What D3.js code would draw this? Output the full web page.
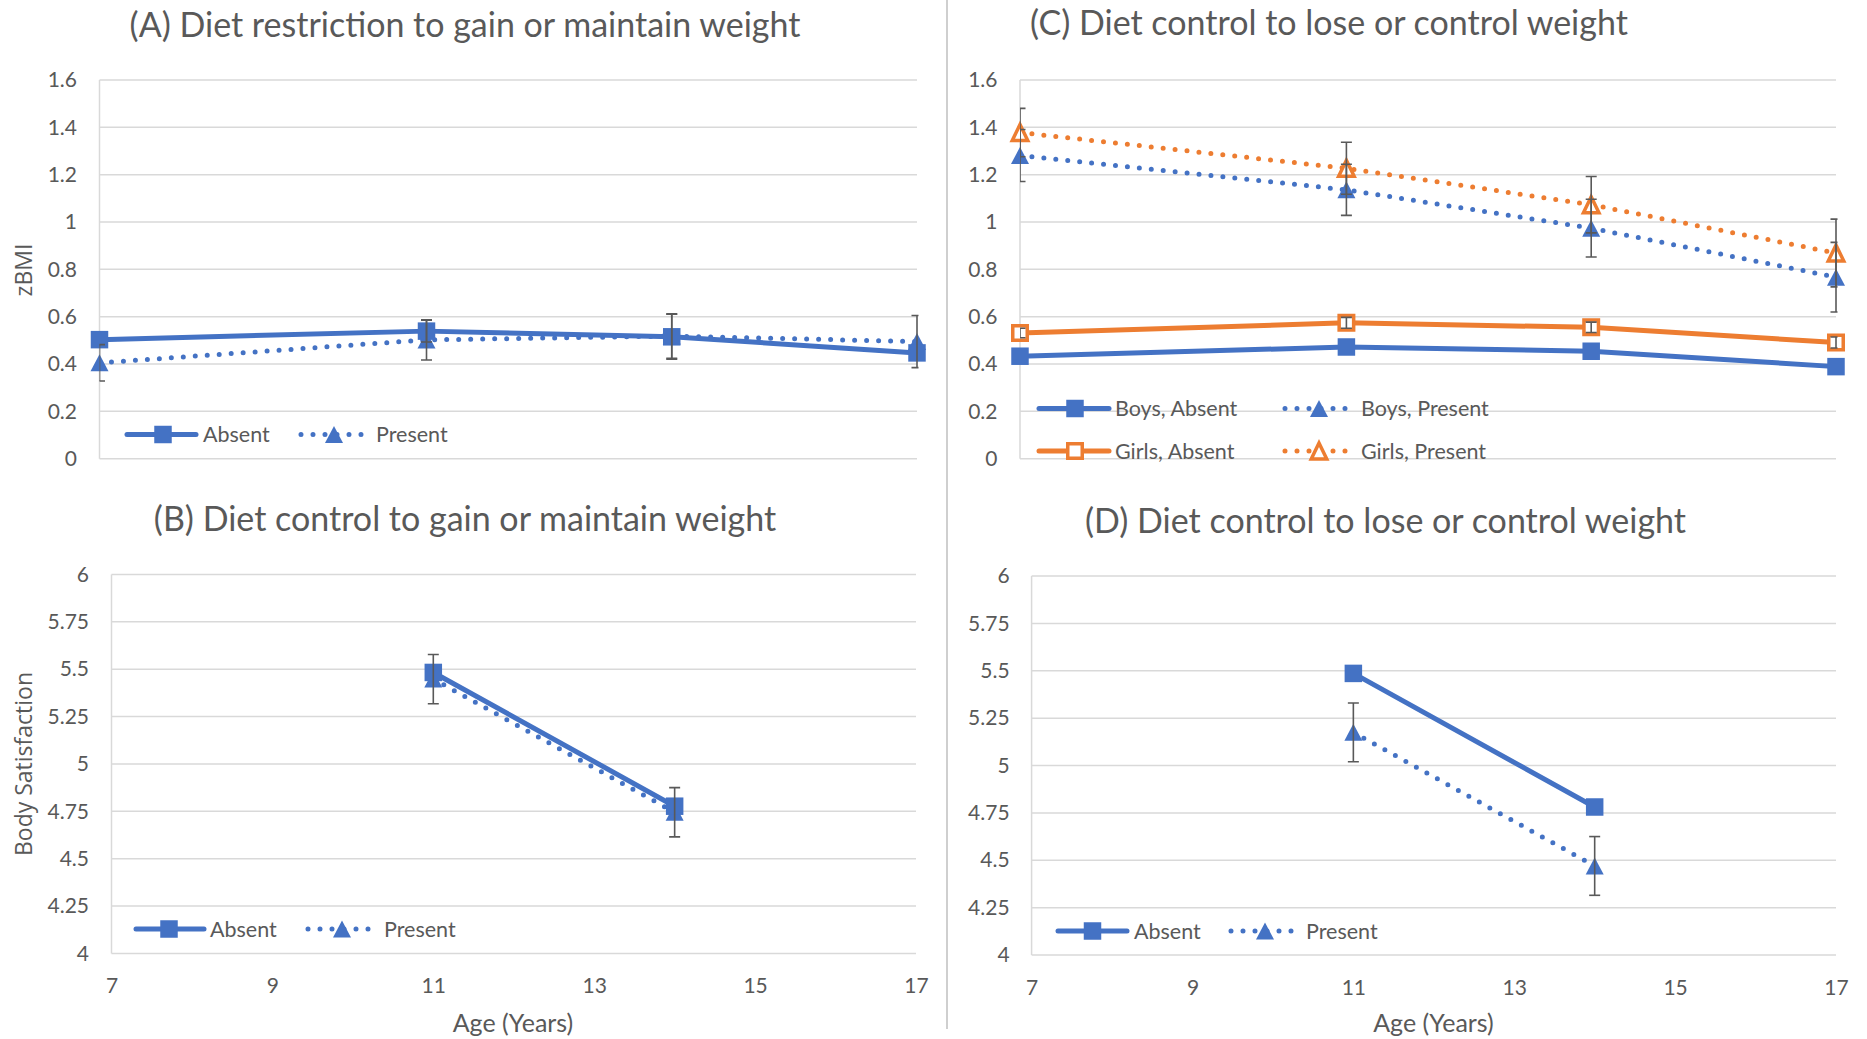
<!DOCTYPE html>
<html><head><meta charset="utf-8">
<script src="https://cdn.jsdelivr.net/npm/d3@7"></script>
<style>
body{margin:0;background:#fff}
svg{display:block}
text{font-family:Lato, "Open Sans", sans-serif; fill:#595959}
</style>
</head><body>
<svg id="chart" width="1867" height="1039"></svg>
<script>
// ---------------- DATA ----------------
const ages = [7, 11, 14, 17];
const agesSat = [11, 14];
const xTickLabels = [7, 9, 11, 13, 15, 17];
const zbmiTicks = [0, 0.2, 0.4, 0.6, 0.8, 1, 1.2, 1.4, 1.6];
const satTicks = [4, 4.25, 4.5, 4.75, 5, 5.25, 5.5, 5.75, 6];

const titles = [
  "(A) Diet restriction to gain or maintain weight",
  "(B) Diet control to gain or maintain weight",
  "(C) Diet control to lose or control weight",
  "(D) Diet control to lose or control weight"
];
const legendAB = ["Absent", "Present"];
const legendC = ["Boys, Absent", "Boys, Present", "Girls, Absent", "Girls, Present"];
const yTitleTop = "zBMI";
const yTitleBottom = "Body Satisfaction";
const xTitle = "Age (Years)";

// Panel A (zBMI)
const aAbsent = [0.503, 0.539, 0.515, 0.447];
const aAbsentErr = [0, 0.046, 0.095, 0];
const aPresent = [0.405, 0.502, 0.518, 0.495];
const aPresentErr = [0.077, 0.085, 0.094, 0.11];

// Panel C (zBMI)
const cBoysAbsent = [0.433, 0.472, 0.454, 0.389];
const cBoysAbsentErr = [0, 0, 0, 0];
const cBoysPresent = [1.281, 1.136, 0.974, 0.767];
const cBoysPresentErr = [0.11, 0.108, 0.122, 0.147];
const cGirlsAbsent = [0.531, 0.574, 0.555, 0.491];
const cGirlsAbsentErr = [0.02, 0.023, 0.022, 0.023];
const cGirlsPresent = [1.378, 1.227, 1.073, 0.869];
const cGirlsPresentErr = [0.102, 0.11, 0.119, 0.143];

// Panel B (Body satisfaction)
const bAbsent = [5.483, 4.777];
const bAbsentErr = [0, 0];
const bPresent = [5.448, 4.745];
const bPresentErr = [0.13, 0.13];

// Panel D (Body satisfaction)
const dAbsent = [5.486, 4.781];
const dAbsentErr = [0, 0];
const dPresent = [5.175, 4.47];
const dPresentErr = [0.155, 0.155];

// ---------------- STYLE ----------------
const BLUE = "#4472C4", ORANGE = "#ED7D31", GRID = "#D9D9D9", ERR = "#595959";
const styles = {
  blueSolid:   {color: BLUE,   dash: null, marker: "square",   hollow: false},
  blueDot:     {color: BLUE,   dash: "0 12", marker: "triangle", hollow: false},
  orangeSolid: {color: ORANGE, dash: null, marker: "square",   hollow: true},
  orangeDot:   {color: ORANGE, dash: "0 12", marker: "triangle", hollow: true}
};

const svg = d3.select("#chart");
let clipId = 0;

function markerPath(type, hollow) {
  if (type === "square") {
    const s = hollow ? 14.5 : 17.5;
    return `M${-s/2},${-s/2}H${s/2}V${s/2}H${-s/2}Z`;
  }
  const w = hollow ? 15.5 : 18, h = hollow ? 16 : 17;
  return `M0,${-h/2}L${w/2},${h/2}L${-w/2},${h/2}Z`;
}

function drawMarker(g, cx, cy, st) {
  g.append("path")
    .attr("d", markerPath(st.marker, st.hollow))
    .attr("transform", `translate(${cx},${cy})`)
    .attr("fill", st.hollow ? "#fff" : st.color)
    .attr("stroke", st.hollow ? st.color : "none")
    .attr("stroke-width", st.hollow ? 3.5 : 0)
    .attr("stroke-linejoin", "miter");
}

function styleLine(sel, st) {
  sel.attr("fill", "none").attr("stroke", st.color).attr("stroke-width", 5);
  if (st.dash) sel.attr("stroke-dasharray", st.dash).attr("stroke-linecap", "round");
  else sel.attr("stroke-linecap", "round").attr("stroke-linejoin", "round");
}

function drawPanel(p) {
  const x = d3.scaleLinear().domain([7, 17]).range([p.x0, p.x1]);
  const y = d3.scaleLinear().domain([p.ticks[0], p.ticks[p.ticks.length - 1]]).range([p.yb, p.yt]);
  const g = svg.append("g");

  // gridlines
  g.selectAll("line.grid").data(p.ticks).join("line")
    .attr("x1", p.x0).attr("x2", p.x1)
    .attr("y1", d => y(d)).attr("y2", d => y(d))
    .attr("stroke", GRID).attr("stroke-width", 1.5);
  // vertical axis line
  g.append("line").attr("x1", p.x0).attr("x2", p.x0).attr("y1", p.yt).attr("y2", p.yb)
    .attr("stroke", GRID).attr("stroke-width", 1.5);

  // y axis labels
  const ya = g.append("g").attr("transform", `translate(${p.x0},0)`)
    .call(d3.axisLeft(y).tickValues(p.ticks).tickSize(0).tickPadding(p.yPad).tickFormat(d3.format("~g")));
  ya.select(".domain").remove();
  ya.selectAll("text").attr("font-size", 21).attr("font-family", "Lato").attr("fill", "#595959");

  if (p.showX) {
    const xa = g.append("g").attr("transform", `translate(0,${p.yb})`)
      .call(d3.axisBottom(x).tickValues(xTickLabels).tickSize(0).tickPadding(25));
    xa.select(".domain").remove();
    xa.selectAll("text").attr("font-size", 21).attr("font-family", "Lato").attr("fill", "#595959");
    g.append("text").attr("x", p.xTitleX).attr("y", 1032).attr("text-anchor", "middle")
      .attr("font-size", 25).text(xTitle);
  }

  // title
  g.append("text").attr("x", p.titleX).attr("y", p.titleY).attr("text-anchor", "middle")
    .attr("font-size", 34).text(p.title);

  // series (drawn in given order)
  const line = d3.line().x(d => x(d[0])).y(d => y(d[1]));
  p.series.forEach(s => {
    const pts = s.ages.map((a, i) => [a, s.values[i]]);
    styleLine(g.append("path").attr("d", line(pts)), s.style);
    pts.forEach(pt => drawMarker(g, x(pt[0]), y(pt[1]), s.style));
  });

  // error bars (clipped to plot area, drawn on top)
  const cid = "clip" + (clipId++);
  g.append("clipPath").attr("id", cid).append("rect")
    .attr("x", p.x0).attr("y", p.yt - 40).attr("width", p.x1 - p.x0 + 1.5).attr("height", p.yb - p.yt + 80);
  const eg = g.append("g").attr("clip-path", `url(#${cid})`);
  p.series.forEach(s => {
    s.ages.forEach((a, i) => {
      if (!s.err[i]) return;
      const cx = x(a), lo = y(s.values[i] - s.err[i]), hi = y(s.values[i] + s.err[i]);
      eg.append("line").attr("x1", cx).attr("x2", cx).attr("y1", lo).attr("y2", hi)
        .attr("stroke", ERR).attr("stroke-width", 1.6);
      [lo, hi].forEach(yy => eg.append("line").attr("x1", cx - 5.5).attr("x2", cx + 5.5)
        .attr("y1", yy).attr("y2", yy).attr("stroke", ERR).attr("stroke-width", 1.6));
    });
  });

  // legend
  p.legend.forEach(l => {
    const st = l.style;
    const sl = g.append("line").attr("x1", l.x1).attr("x2", l.x2).attr("y1", l.y).attr("y2", l.y);
    styleLine(sl, st);
    drawMarker(g, l.mx, l.y, st);
    g.append("text").attr("x", l.tx).attr("y", l.y + 7.5).attr("font-size", 21.5).text(l.label);
  });
}

// Panel A
drawPanel({
  x0: 99.5, x1: 917, yt: 80, yb: 458.7, ticks: zbmiTicks, yPad: 22.5, showX: false,
  title: titles[0], titleX: 465, titleY: 37,
  series: [
    {ages: ages, values: aPresent, err: aPresentErr, style: styles.blueDot},
    {ages: ages, values: aAbsent, err: aAbsentErr, style: styles.blueSolid}
  ],
  legend: [
    {label: legendAB[0], style: styles.blueSolid, x1: 127, x2: 196, mx: 163, tx: 203, y: 434.5},
    {label: legendAB[1], style: styles.blueDot, x1: 301, x2: 364, mx: 334, tx: 376, y: 434.5}
  ]
});

// Panel C
drawPanel({
  x0: 1020, x1: 1836, yt: 80, yb: 458.7, ticks: zbmiTicks, yPad: 22.5, showX: false,
  title: titles[2], titleX: 1329, titleY: 35,
  series: [
    {ages: ages, values: cBoysPresent, err: cBoysPresentErr, style: styles.blueDot},
    {ages: ages, values: cGirlsPresent, err: cGirlsPresentErr, style: styles.orangeDot},
    {ages: ages, values: cBoysAbsent, err: cBoysAbsentErr, style: styles.blueSolid},
    {ages: ages, values: cGirlsAbsent, err: cGirlsAbsentErr, style: styles.orangeSolid}
  ],
  legend: [
    {label: legendC[0], style: styles.blueSolid, x1: 1039, x2: 1109, mx: 1075, tx: 1115, y: 408.5},
    {label: legendC[1], style: styles.blueDot, x1: 1285, x2: 1349, mx: 1319, tx: 1361, y: 408.5},
    {label: legendC[2], style: styles.orangeSolid, x1: 1039, x2: 1109, mx: 1075, tx: 1115, y: 451},
    {label: legendC[3], style: styles.orangeDot, x1: 1285, x2: 1349, mx: 1319, tx: 1361, y: 451}
  ]
});

// Panel B
drawPanel({
  x0: 111.5, x1: 916, yt: 574.5, yb: 953.4, ticks: satTicks, yPad: 22.5, showX: true, xTitleX: 513,
  title: titles[1], titleX: 465, titleY: 531,
  series: [
    {ages: agesSat, values: bPresent, err: bPresentErr, style: styles.blueDot},
    {ages: agesSat, values: bAbsent, err: bAbsentErr, style: styles.blueSolid}
  ],
  legend: [
    {label: legendAB[0], style: styles.blueSolid, x1: 136, x2: 204, mx: 169, tx: 210, y: 929},
    {label: legendAB[1], style: styles.blueDot, x1: 308, x2: 372, mx: 342, tx: 384, y: 929}
  ]
});

// Panel D
drawPanel({
  x0: 1031.6, x1: 1836, yt: 576, yb: 955, ticks: satTicks, yPad: 22, showX: true, xTitleX: 1433.5,
  title: titles[3], titleX: 1385.5, titleY: 533,
  series: [
    {ages: agesSat, values: dPresent, err: dPresentErr, style: styles.blueDot},
    {ages: agesSat, values: dAbsent, err: dAbsentErr, style: styles.blueSolid}
  ],
  legend: [
    {label: legendAB[0], style: styles.blueSolid, x1: 1058, x2: 1127, mx: 1092.5, tx: 1134, y: 931},
    {label: legendAB[1], style: styles.blueDot, x1: 1231, x2: 1294, mx: 1265, tx: 1306, y: 931}
  ]
});

// rotated y-axis titles
svg.append("text").attr("transform", "translate(23,270) rotate(-90)")
  .attr("text-anchor", "middle").attr("dominant-baseline", "central")
  .style("font-family", "'Open Sans', sans-serif").attr("font-size", 23).text(yTitleTop);
svg.append("text").attr("transform", "translate(23,764) rotate(-90)")
  .attr("text-anchor", "middle").attr("dominant-baseline", "central")
  .style("font-family", "'Open Sans', sans-serif").attr("font-size", 23).text(yTitleBottom);

// divider between left and right halves
svg.append("line").attr("x1", 947).attr("x2", 947).attr("y1", 0).attr("y2", 1029)
  .attr("stroke", "#BFBFBF").attr("stroke-width", 1.5);
</script>
</body></html>
